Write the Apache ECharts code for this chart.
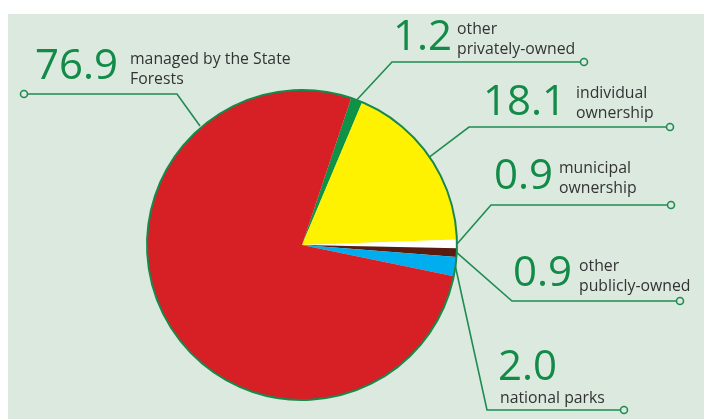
<!DOCTYPE html>
<html>
<head>
<meta charset="utf-8">
<script src="https://cdn.jsdelivr.net/npm/echarts@6/dist/echarts.min.js"></script>
<style>
html,body{margin:0;padding:0;background:#fff;}
#c{width:704px;height:419px;}
</style>
</head>
<body>
<div id="c"></div>
<script>
// ---- data ----
var categories = ['other privately-owned', 'individual ownership', 'municipal ownership', 'other publicly-owned', 'national parks', 'managed by the State Forests'];
var values = [1.2, 18.1, 0.9, 0.9, 2.0, 76.9];
var descriptions = ['other\nprivately-owned', 'individual\nownership', 'municipal\nownership', 'other\npublicly-owned', 'national parks', 'managed by the State\nForests'];
var sliceColors = ['#0e9346', '#fff200', '#ffffff', '#5a1c10', '#00aeef', '#d71f26'];

// ---- annotation layout (positions only) ----
var numPos = [[393, 38], [483, 103], [494, 177], [513, 274], [498, 368], [35, 67]];
var descPos = [[457, 39], [576, 103.5], [559, 178], [579, 276], [500, 398], [130, 69]];
var bends = [[392, 62], [469, 127], [491, 205], [512, 301], [487, 410], [177, 94]];
var ends = [[584, 62], [670, 127], [671, 205], [680, 301], [624, 410], [24, 94]];
var customStart = {5: [200, 126]};

var GREEN = '#128a48';
var LINE = '#1f8c52';
var BG = '#dce9df';

var chart = echarts.init(document.getElementById('c'));

var baseData = categories.map(function (c, i) {
  return { name: c, value: values[i], itemStyle: { color: sliceColors[i] } };
});
var ghostData = categories.map(function (c, i) {
  return { name: c, value: values[i], itemStyle: { color: 'rgba(0,0,0,0)' } };
});

var graphics = [{
  type: 'rect', left: 8, top: 14, z: -10,
  shape: { width: 696, height: 405 },
  style: { fill: BG }, silent: true
}];
ends.forEach(function (p) {
  graphics.push({
    type: 'circle', z: 100, silent: true,
    shape: { cx: p[0], cy: p[1], r: 3.5 },
    style: { fill: BG, stroke: LINE, lineWidth: 1.6 }
  });
});

var pieCommon = {
  type: 'pie',
  center: [302, 245],
  radius: 155,
  startAngle: 71.5,
  clockwise: true,
  avoidLabelOverlap: false,
  animation: false,
  silent: true
};

chart.setOption({
  backgroundColor: '#ffffff',
  animation: false,
  graphic: graphics,
  series: [
    Object.assign({}, pieCommon, {
      data: baseData,
      itemStyle: { borderWidth: 0 },
      label: {
        show: true, position: 'outside', alignTo: 'none',
        formatter: function (p) { return p.value.toFixed(1); },
        fontFamily: 'Open Sans', fontSize: 42, color: GREEN, lineHeight: 42,
        overflow: 'none', width: 200
      },
      labelLine: { show: true, lineStyle: { color: LINE, width: 1.6 } },
      labelLayout: function (params) {
        var i = params.dataIndex;
        var start = customStart[i] || params.labelLinePoints[0];
        return {
          x: numPos[i][0], y: numPos[i][1], align: 'left', verticalAlign: 'middle',
          labelLinePoints: [start, bends[i], ends[i]]
        };
      }
    }),
    Object.assign({}, pieCommon, {
      data: ghostData,
      itemStyle: { borderWidth: 0 },
      label: {
        show: true, position: 'outside', alignTo: 'none',
        formatter: function (p) { return descriptions[p.dataIndex]; },
        fontFamily: 'Open Sans', fontSize: 15.8, color: '#333333', lineHeight: 20,
        overflow: 'none', width: 300
      },
      labelLine: { show: false },
      labelLayout: function (params) {
        var i = params.dataIndex;
        return { x: descPos[i][0], y: descPos[i][1], align: 'left', verticalAlign: 'middle' };
      }
    }),
    Object.assign({}, pieCommon, {
      data: [{ value: 1, name: 'outline' }],
      itemStyle: { color: 'rgba(0,0,0,0)', borderColor: '#17894a', borderWidth: 2 },
      label: { show: false },
      labelLine: { show: false }
    })
  ]
});
</script>
</body>
</html>
